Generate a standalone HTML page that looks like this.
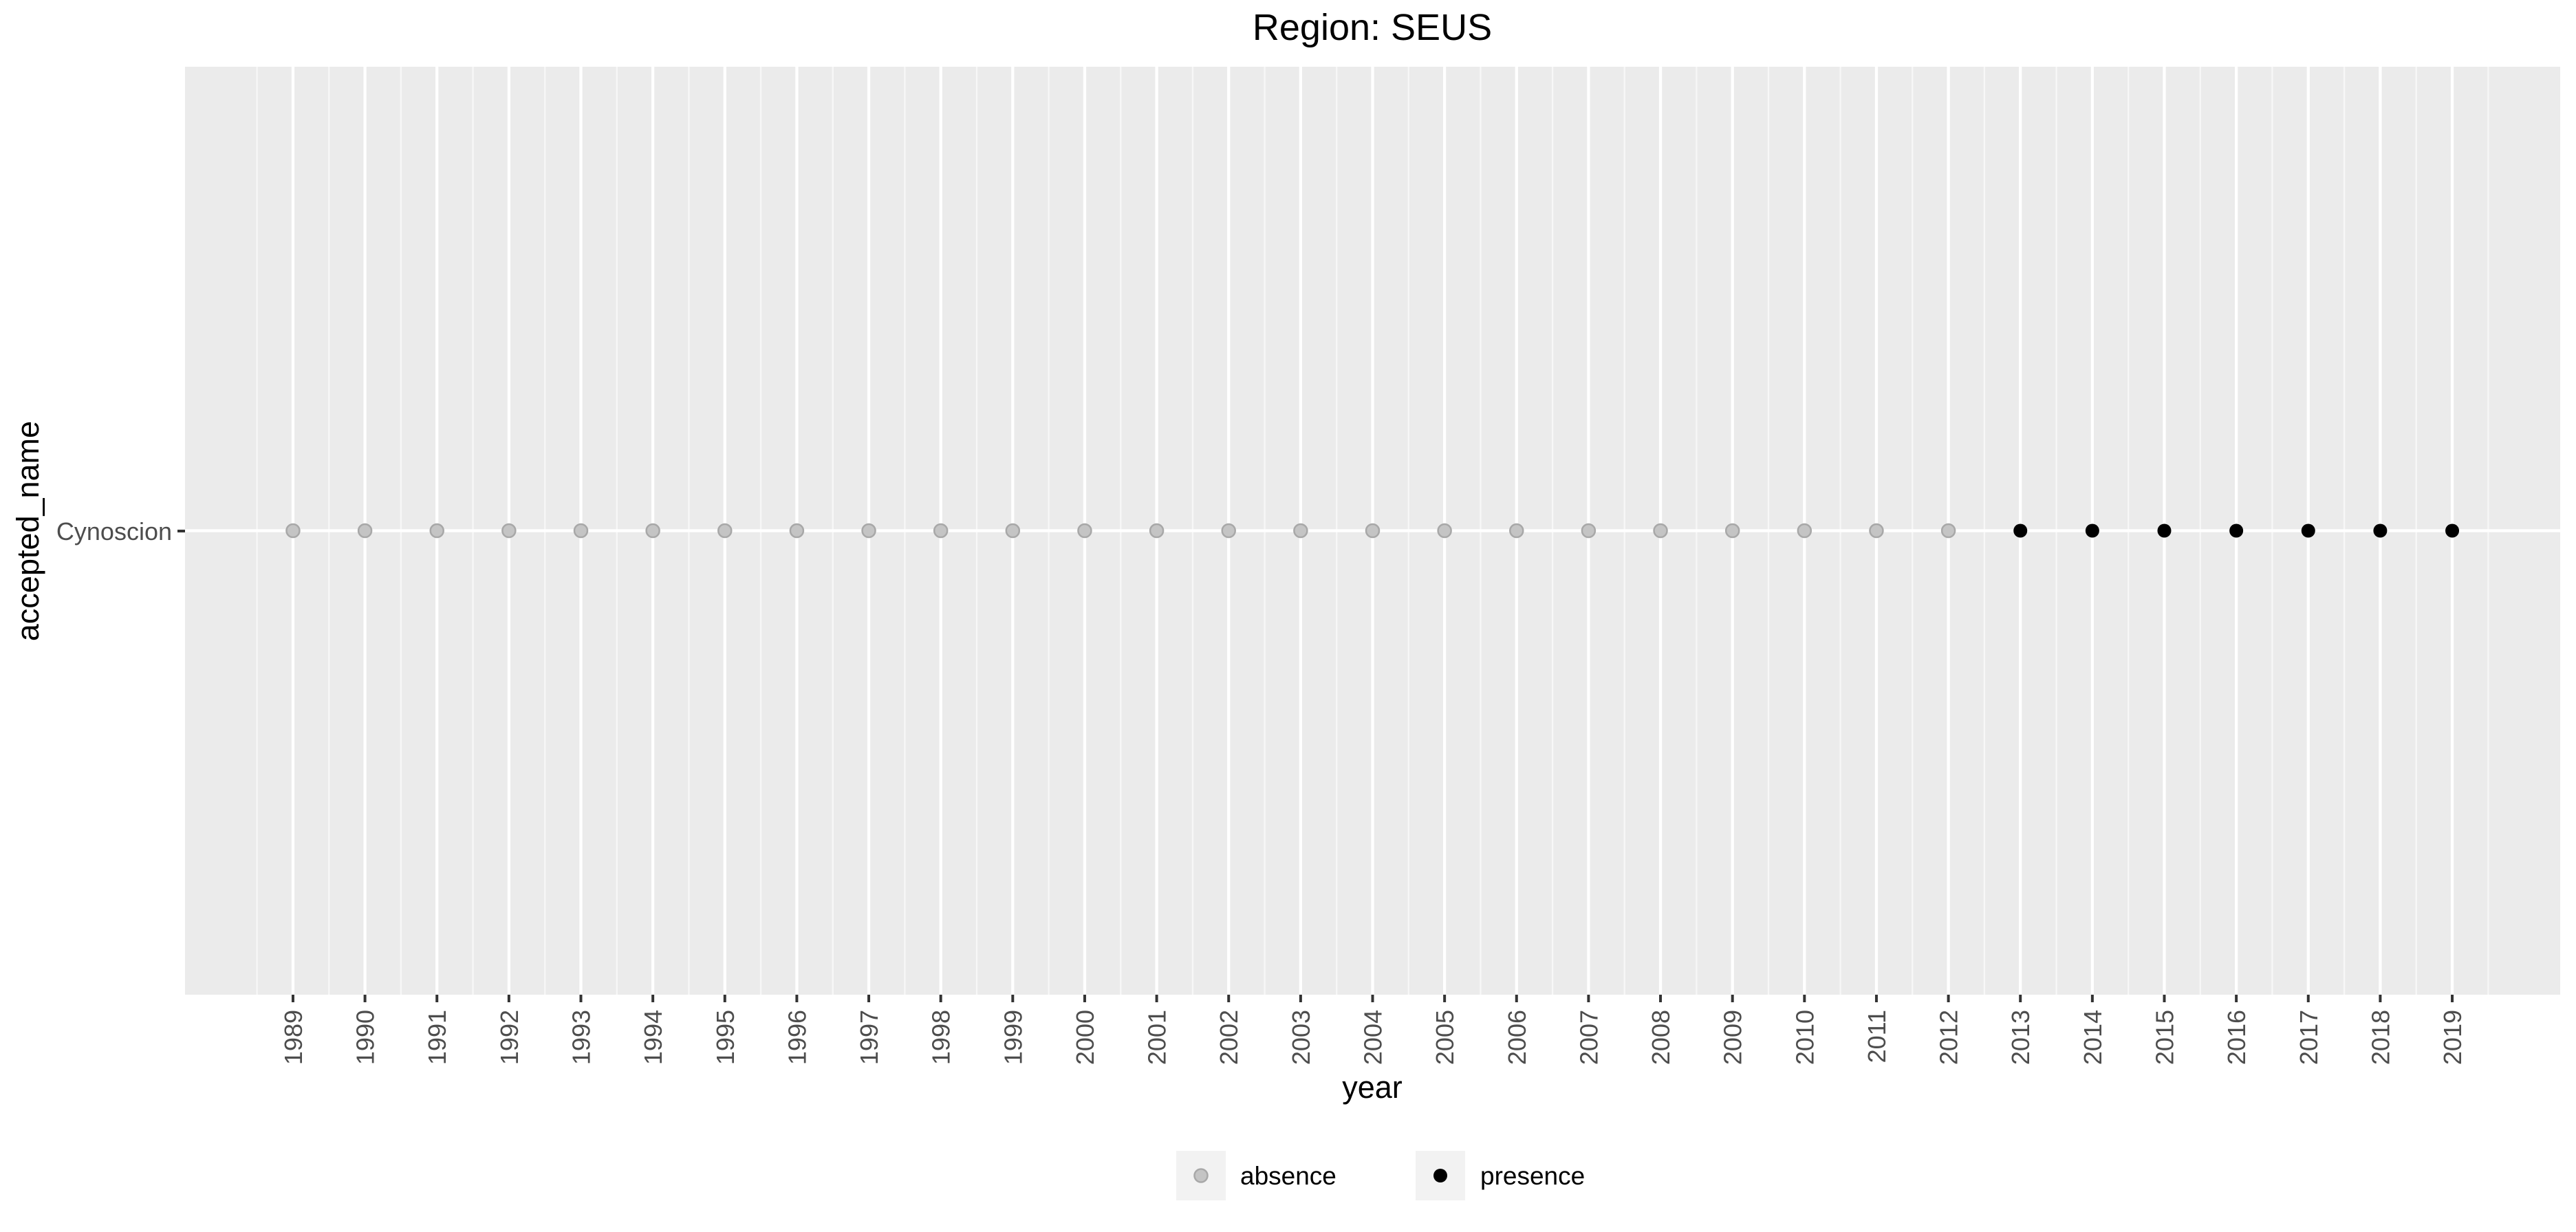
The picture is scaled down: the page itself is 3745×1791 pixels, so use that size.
<!DOCTYPE html>
<html><head><meta charset="utf-8"><style>
html,body{margin:0;padding:0;background:#fff;}
svg{display:block;font-family:"Liberation Sans",sans-serif;}
</style></head><body>
<svg id="chart" width="3745" height="1791" viewBox="0 0 3745 1791" xmlns="http://www.w3.org/2000/svg">
<text x="1995" y="58" font-size="54" text-anchor="middle" fill="#000">Region: SEUS</text>
<rect x="269" y="97" width="3453" height="1349" fill="#ebebeb"/>
<g id="grid"></g>
<g id="xaxis"></g>
<g id="points"></g>
<line x1="258" x2="269" y1="772" y2="772" stroke="#333" stroke-width="4"/>
<text x="250" y="785" font-size="36" text-anchor="end" fill="#4d4d4d">Cynoscion</text>
<text transform="translate(56,772) rotate(-90)" font-size="45" text-anchor="middle" fill="#000">accepted_name</text>
<text x="1995" y="1596" font-size="45" text-anchor="middle" fill="#000">year</text>
<g>
<rect x="1710" y="1673" width="72" height="72" fill="#f2f2f2"/>
<circle cx="1746" cy="1709" r="9.5" fill="#c4c4c4" stroke="#a8a8a8" stroke-width="2.5"/>
<text x="1803" y="1722" font-size="37" fill="#000">absence</text>
<rect x="2058" y="1673" width="72" height="72" fill="#f2f2f2"/>
<circle cx="2094" cy="1709" r="10" fill="#000"/>
<text x="2152" y="1722" font-size="37" fill="#000">presence</text>
</g>
</svg>
<script>
const years = [1989,1990,1991,1992,1993,1994,1995,1996,1997,1998,1999,2000,2001,2002,2003,2004,2005,2006,2007,2008,2009,2010,2011,2012,2013,2014,2015,2016,2017,2018,2019];
const status = ["absence","absence","absence","absence","absence","absence","absence","absence","absence","absence","absence","absence","absence","absence","absence","absence","absence","absence","absence","absence","absence","absence","absence","absence","presence","presence","presence","presence","presence","presence","presence"];
const species = ["Cynoscion"];
const NS = "http://www.w3.org/2000/svg";
const X0 = 269, X1 = 3722, XMIN = 1987.5, XMAX = 2020.5;
function xs(v){ return X0 + (v - XMIN) / (XMAX - XMIN) * (X1 - X0); }
function ys(i){ return 97 + 1349 / 2; }
const grid = document.getElementById('grid');
const xaxis = document.getElementById('xaxis');
const pts = document.getElementById('points');
function mk(tag, attrs, parent){ const e = document.createElementNS(NS, tag); for (const k in attrs) e.setAttribute(k, attrs[k]); parent.appendChild(e); return e; }
// minor gridlines at half-years
for (let m = XMIN; m <= XMAX; m += 1) {
  if (m === XMIN || m === XMAX) continue;
  const l = mk('line', {x1: xs(m), x2: xs(m), y1: 97, y2: 1446, stroke: '#f7f7f7', 'stroke-width': 2.3}, grid);
  
  
}
years.forEach((y) => {
  const l = mk('line', {x1: xs(y), x2: xs(y), y1: 97, y2: 1446, stroke: '#fff', 'stroke-width': 4.3}, grid);
  
  
  const t = mk('line', {x1: xs(y), x2: xs(y), y1: 1446, y2: 1457, stroke: '#333', 'stroke-width': 4}, xaxis);
  
  
  const tx = mk('text', {transform: 'translate(' + (xs(y) + 13) + ',1468) rotate(-90)', 'font-size': 36, 'text-anchor': 'end', fill: '#4d4d4d'}, xaxis);
  tx.textContent = y;
  
  
});
const hl = mk('line', {x1: X0, x2: X1, y1: ys(0), y2: ys(0), stroke: '#fff', 'stroke-width': 4.3}, grid);


years.forEach((y, i) => {
  const pres = status[i] === 'presence';
  const c = mk('circle', pres ? {cx: xs(y), cy: ys(0), r: 10, fill: '#000'} : {cx: xs(y), cy: ys(0), r: 9.5, fill: '#c4c4c4', stroke: '#a8a8a8', 'stroke-width': 2.5}, pts);
  
  
});
</script>
</body></html>
